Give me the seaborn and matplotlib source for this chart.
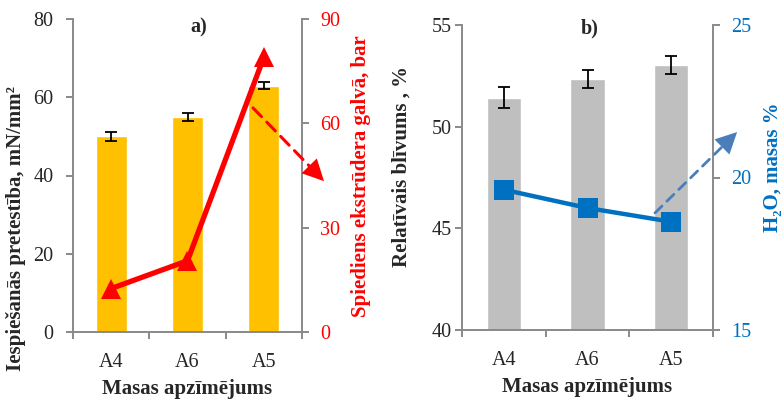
import numpy as np
import matplotlib
matplotlib.use("Agg")
import matplotlib.pyplot as plt
from matplotlib.ticker import FixedLocator
import seaborn as sns

# Sample codes (x categories)
samples = ["A4", "A6", "A5"]

# a) indentation resistance (bars, left axis) and die pressure (line, right axis)
indent_resistance = [50.0, 55.0, 63.0]
indent_err = [1.1, 0.95, 0.95]
die_pressure = [12.5, 20.5, 79.0]

# b) relative density (bars, left axis) and moisture content (line, right axis)
rel_density = [51.43, 52.35, 53.03]
density_err = [0.5, 0.45, 0.44]
moisture = [19.6, 19.0, 18.55]

left_ticks_a = [0, 20, 40, 60, 80]
right_ticks_a = [0, 30, 60, 90]
left_ticks_b = [40, 45, 50, 55]
right_ticks_b = [15, 20, 25]

sns.set_style("white")
plt.rcParams["font.family"] = ["Liberation Serif", "DejaVu Serif"]
plt.rcParams["font.size"] = 14

GRAY = "#898989"
ORANGE = "#FFC000"
BAR_GRAY = "#BFBFBF"
RED = "#FF0000"
BLUE = "#0070C0"
ARROW_BLUE = "#4A7EBB"
TICK_FS = 14.5
LABEL_FS = 15

fig = plt.figure(figsize=(7.84, 4.0), dpi=100)
W, H = 784, 400
ax_a = fig.add_axes([73 / W, (H - 332) / H, 229 / W, 313 / H])
ax_b = fig.add_axes([462 / W, (H - 330) / H, 251 / W, 305 / H])


def bars_with_errors(ax, values, errors, color):
    sns.barplot(x=samples, y=values, color=color, saturation=1, width=0.41,
                errorbar=None, ax=ax, zorder=2)
    ax.errorbar(np.arange(len(samples)), values, yerr=errors, fmt="none",
                ecolor="black", elinewidth=1.3, capsize=4.5, capthick=1.3,
                zorder=3)


def line_on_twin(ax, values, color, marker, msize, lw):
    axr = ax.twinx()
    sns.pointplot(x=samples, y=values, color=color, markers=marker,
                  errorbar=None, ax=axr, markersize=msize, linewidth=lw,
                  markeredgewidth=0)
    return axr


def style_pair(ax, axr, lticks, rticks, rcolor, lpad):
    ax.set_ylim(lticks[0], lticks[-1])
    ax.set_yticks(lticks)
    axr.set_ylim(rticks[0], rticks[-1])
    axr.set_yticks(rticks)
    ax.set_xlim(-0.5, len(samples) - 0.5)
    ax.set_xticks(np.arange(len(samples)))
    ax.set_xticklabels(samples)
    ax.xaxis.set_minor_locator(FixedLocator(np.arange(len(samples) + 1) - 0.5))
    for a in (ax, axr):
        a.spines["top"].set_visible(False)
        for s in a.spines.values():
            s.set_color(GRAY)
            s.set_linewidth(1.4)
    ax.spines["right"].set_visible(False)
    axr.spines["left"].set_visible(False)
    axr.spines["bottom"].set_visible(False)
    ax.tick_params(axis="x", which="major", length=0, pad=15, labelsize=TICK_FS)
    ax.tick_params(axis="x", which="minor", length=5, width=1.4, color=GRAY,
                   direction="out", bottom=True)
    ax.tick_params(axis="y", length=5, width=1.4, color=GRAY, direction="out",
                   left=True, labelsize=TICK_FS, pad=lpad)
    axr.tick_params(axis="y", length=5, width=1.4, color=GRAY, direction="out",
                    right=True, labelsize=TICK_FS, labelcolor=rcolor, pad=8)
    ax.grid(False)
    axr.grid(False)


def trend_arrow(ax, start, tip, color, lw, dashes):
    ax.annotate("", xy=tip, xytext=start, xycoords="axes fraction",
                textcoords="axes fraction",
                arrowprops=dict(arrowstyle="-", color=color, lw=lw,
                                linestyle=(0, dashes), shrinkA=0, shrinkB=8))
    near = (tip[0] - 0.02 * (tip[0] - start[0]),
            tip[1] - 0.02 * (tip[1] - start[1]))
    ax.annotate("", xy=tip, xytext=near, xycoords="axes fraction",
                textcoords="axes fraction",
                arrowprops=dict(arrowstyle="-|>,head_length=0.9,head_width=0.45",
                                color=color, lw=0, mutation_scale=17,
                                shrinkA=0, shrinkB=0))


def centered_label(label):
    label.set_va("center")
    label.set_ha("center")


# ---- panel a) ----
bars_with_errors(ax_a, indent_resistance, indent_err, ORANGE)
axr_a = line_on_twin(ax_a, die_pressure, RED, "^", 14, 3.8)
style_pair(ax_a, axr_a, left_ticks_a, right_ticks_a, RED, 9)
ax_a.set_xlabel("Masas apzīmējums", fontweight="bold", fontsize=LABEL_FS)
ax_a.xaxis.set_label_coords(0.5, -0.182)
centered_label(ax_a.xaxis.label)
ax_a.set_ylabel("Iespiešanās pretestība, mN/mm²", fontweight="bold",
                fontsize=LABEL_FS)
ax_a.yaxis.set_label_coords(-0.249, 0.332)
centered_label(ax_a.yaxis.label)
axr_a.set_ylabel("Spiediens ekstrūdera galvā, bar", fontweight="bold",
                 fontsize=LABEL_FS, color=RED)
axr_a.yaxis.set_label_coords(1.258, 0.497)
centered_label(axr_a.yaxis.label)
axr_a.set_xlabel("")
ax_a.text(0.55, 0.974, "a)", transform=ax_a.transAxes, ha="center",
          va="center", fontweight="bold", fontsize=14.5)
trend_arrow(axr_a, (0.786, 0.716), (1.096, 0.482), RED, 2.2, (4, 2.5))

# ---- panel b) ----
bars_with_errors(ax_b, rel_density, density_err, BAR_GRAY)
axr_b = line_on_twin(ax_b, moisture, BLUE, "s", 15, 3.2)
style_pair(ax_b, axr_b, left_ticks_b, right_ticks_b, BLUE, 2.5)
ax_b.set_xlabel("Masas apzīmējums", fontweight="bold", fontsize=LABEL_FS)
ax_b.xaxis.set_label_coords(0.5, -0.186)
centered_label(ax_b.xaxis.label)
ax_b.set_ylabel("Relatīvais blīvums , %", fontweight="bold", fontsize=LABEL_FS)
ax_b.yaxis.set_label_coords(-0.242, 0.535)
centered_label(ax_b.yaxis.label)
axr_b.set_ylabel("H₂O, masas %", fontweight="bold", fontsize=LABEL_FS,
                 color=BLUE)
axr_b.yaxis.set_label_coords(1.238, 0.534)
centered_label(axr_b.yaxis.label)
axr_b.set_xlabel("")
ax_b.text(0.51, 0.99, "b)", transform=ax_b.transAxes, ha="center",
          va="center", fontweight="bold", fontsize=14.5)
trend_arrow(axr_b, (0.769, 0.384), (1.096, 0.649), ARROW_BLUE, 2.0, (3.5, 2.5))

fig.savefig("out.png", dpi=100)
